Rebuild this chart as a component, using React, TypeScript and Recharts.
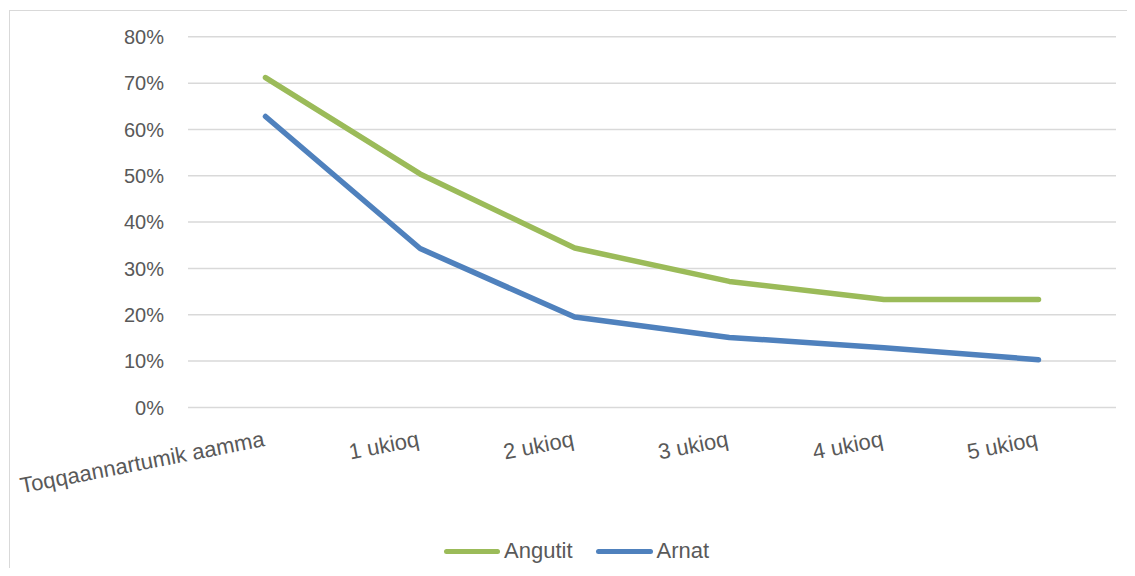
import React from 'react';
import { LineChart, Line, XAxis, YAxis, CartesianGrid, Legend } from 'recharts';

const categories = ['Toqqaannartumik aamma', '1 ukioq', '2 ukioq', '3 ukioq', '4 ukioq', '5 ukioq'];
const angutit = [71.2, 50.4, 34.4, 27.2, 23.3, 23.3];
const arnat = [62.8, 34.3, 19.5, 15.1, 12.9, 10.3];
const yTicks = [0, 10, 20, 30, 40, 50, 60, 70, 80];

const data = categories.map((c, i) => ({ name: c, Angutit: angutit[i], Arnat: arnat[i] }));

const FONT = '"Liberation Sans", Arial, sans-serif';
const TEXT = '#595959';

const XTick = (props: any) => {
  const { x, payload } = props;
  return (
    <g transform={`translate(${x},438) rotate(-11)`}>
      <text x={0} y={0} textAnchor="end" fill={TEXT} fontSize={22} fontFamily={FONT}>
        {payload.value}
      </text>
    </g>
  );
};

const LegendContent = () => (
  <div style={{ display: 'flex', alignItems: 'center', fontFamily: FONT, fontSize: 22, color: TEXT }}>
    <span style={{ display: 'inline-block', width: 56, height: 5, borderRadius: 3, background: '#9BBB59', marginRight: 4 }} />
    <span style={{ marginRight: 23 }}>Angutit</span>
    <span style={{ display: 'inline-block', width: 57, height: 5, borderRadius: 3, background: '#4F81BD', marginRight: 4 }} />
    <span>Arnat</span>
  </div>
);

export default function App() {
  return (
    <div style={{ position: 'relative', width: 1127, height: 560, overflow: 'hidden', background: '#fff' }}>
      <div style={{ position: 'absolute', left: 1, top: 2, width: 1200, height: 700, border: '1px solid #d9d9d9' }} />
      <LineChart width={1127} height={560} data={data} margin={{ top: 28.8, right: 19, bottom: 0, left: 0 }}>
        <CartesianGrid vertical={false} stroke="#d9d9d9" strokeWidth={1.5} />
        <XAxis
          dataKey="name"
          padding={{ left: 77.5, right: 77.5 }}
          axisLine={false}
          tickLine={false}
          tick={<XTick />}
          height={134.6}
          interval={0}
        />
        <YAxis
          domain={[0, 80]}
          ticks={yTicks}
          tickFormatter={(v: number) => `${v}%`}
          axisLine={false}
          tickLine={false}
          tickSize={0}
          tickMargin={24}
          width={180}
          tick={{ fill: TEXT, fontSize: 20, fontFamily: FONT }}
        />
        <Line type="linear" dataKey="Angutit" stroke="#9BBB59" strokeWidth={5.5} strokeLinecap="round" strokeLinejoin="round" dot={false} isAnimationActive={false} />
        <Line type="linear" dataKey="Arnat" stroke="#4F81BD" strokeWidth={5.5} strokeLinecap="round" strokeLinejoin="round" dot={false} isAnimationActive={false} />
        <Legend content={<LegendContent />} wrapperStyle={{ position: 'absolute', left: 436, top: 530, width: 'auto', height: 'auto' }} />
      </LineChart>
    </div>
  );
}
